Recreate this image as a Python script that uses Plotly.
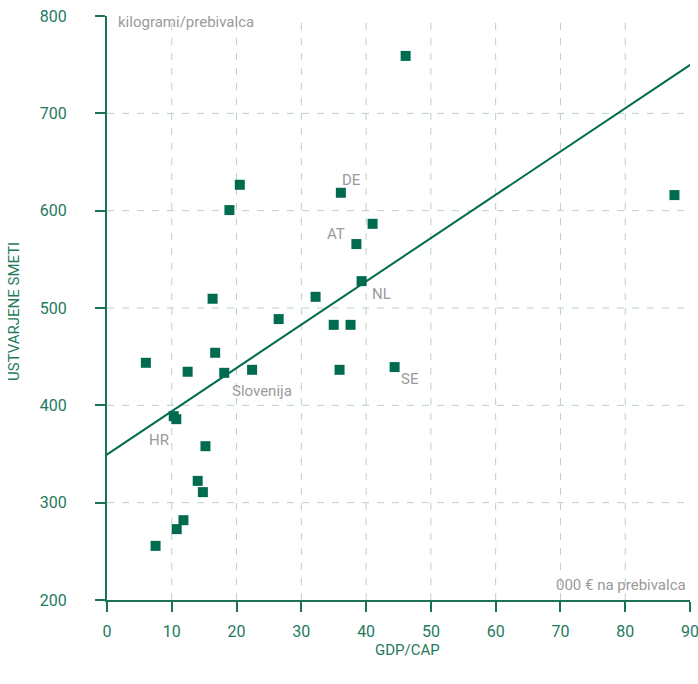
import plotly.graph_objects as go

# GDP per capita (000 EUR) and municipal waste generated (kg per inhabitant)
gdp = [46.1, 87.6, 20.5, 18.9, 36.1, 41.0, 38.5, 39.3, 16.3, 32.2, 26.5, 35.0, 37.6,
       16.7, 6.0, 12.45, 18.1, 22.4, 35.9, 44.4, 10.3, 10.7, 15.2, 14.0, 14.8, 11.8,
       10.76, 7.5]
waste = [759, 616, 626.6, 600.6, 618.4, 586.5, 565.7, 527.6, 509.5, 511.5, 488.6, 482.7,
         482.7, 454, 443.7, 434.5, 433.4, 436.5, 436.5, 439.3, 388.9, 385.8, 358, 322.4,
         310.8, 282, 272.8, 255.6]

trend_x = [-0.2, 90.3]
trend_y = [348.6, 751.0]

label_text = ["DE", "AT", "NL", "SE", "Slovenija", "HR"]
label_x = [37.8, 35.4, 42.4, 46.7, 24.0, 8.1]
label_y = [631.5, 576, 514, 427, 415, 364]

x_ticks = [0, 10, 20, 30, 40, 50, 60, 70, 80, 90]
y_ticks = [200, 300, 400, 500, 600, 700, 800]

GREEN = "#006b4f"
AXIS = "#1c7257"
TICK = "#1f7a5d"
GRID = "#b9d1c8"
GRAY = "#9a9a9a"
FONT = "Roboto, sans-serif"

fig = go.Figure()
fig.add_trace(go.Scatter(x=trend_x, y=trend_y, mode="lines",
                         line=dict(color=GREEN, width=2), hoverinfo="skip",
                         showlegend=False, cliponaxis=False))
fig.add_trace(go.Scatter(x=gdp, y=waste, mode="markers",
                         marker=dict(symbol="square", size=10, color=GREEN),
                         showlegend=False, cliponaxis=False))

# dashed grid lines (interior ticks only, as in the original)
shapes = []
for xv in x_ticks[1:-1]:
    shapes.append(dict(type="line", xref="x", yref="y domain", x0=xv, x1=xv, y0=0, y1=1,
                       line=dict(color=GRID, width=1, dash="7px,8px"), layer="below"))
for yv in y_ticks[1:-1]:
    shapes.append(dict(type="line", xref="x domain", yref="y", x0=0, x1=1, y0=yv, y1=yv,
                       line=dict(color=GRID, width=1, dash="7px,8px"), layer="below"))

annotations = []
for t, x, y in zip(label_text, label_x, label_y):
    annotations.append(dict(x=x, y=y, xref="x", yref="y", text=t, showarrow=False,
                            font=dict(family=FONT, size=15, color=GRAY)))

annotations += [
    dict(x=(116 - 107) / 583, y=1 - (22 - 16) / 584, xref="paper", yref="paper",
         text="kilogrami/prebivalca", showarrow=False, xanchor="left", yanchor="middle",
         font=dict(family=FONT, size=15, color=GRAY)),
    dict(x=(688 - 107) / 583, y=1 - (585 - 16) / 584, xref="paper", yref="paper",
         text="000 € na prebivalca", showarrow=False, xanchor="right", yanchor="middle",
         font=dict(family=FONT, size=15, color=GRAY)),
    dict(x=(407 - 107) / 583, y=1 - (650 - 16) / 584, xref="paper", yref="paper",
         text="GDP/CAP", showarrow=False, xanchor="center", yanchor="middle",
         font=dict(family=FONT, size=15, color=TICK)),
    dict(x=(14 - 107) / 583, y=1 - (312 - 16) / 584, xref="paper", yref="paper",
         text="USTVARJENE SMETI", showarrow=False, textangle=-90,
         xanchor="center", yanchor="middle",
         font=dict(family=FONT, size=15, color=TICK)),
]

axis_common = dict(showline=True, linecolor=AXIS, linewidth=2, ticks="outside",
                   ticklen=10, tickwidth=2, tickcolor=AXIS, zeroline=False,
                   showgrid=False, ticklabeloverflow="allow", automargin=False,
                   tickfont=dict(family=FONT, size=16, color=TICK))

fig.update_layout(
    width=698, height=684,
    margin=dict(l=107, r=8, t=16, b=84, autoexpand=False),
    plot_bgcolor="white", paper_bgcolor="white",
    xaxis=dict(range=[0, 90], tickvals=x_ticks, ticklabelstandoff=6, **axis_common),
    yaxis=dict(range=[200, 800], tickvals=y_ticks, ticklabelstandoff=25, **axis_common),
    annotations=annotations,
    shapes=shapes,
)

fig.write_html("out.html", config={"displayModeBar": False},
               post_script="document.body.style.margin='0px';document.body.style.overflow='hidden';")
